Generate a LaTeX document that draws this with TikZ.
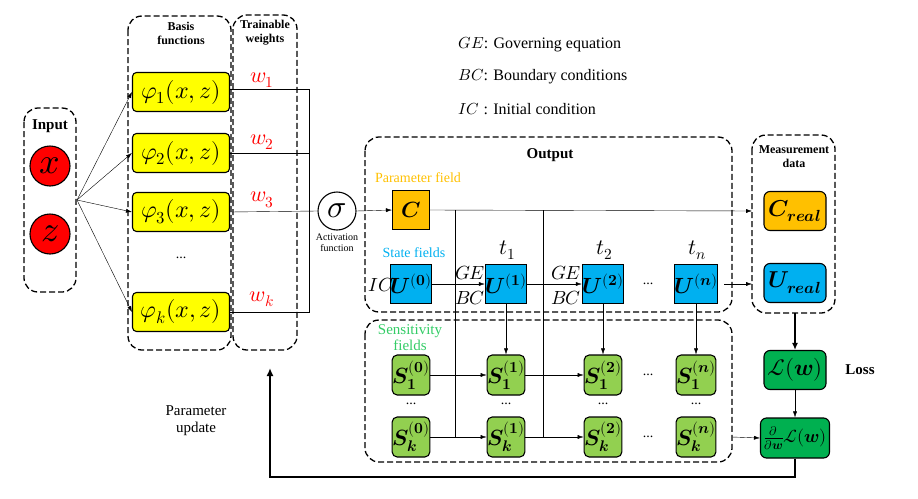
\documentclass[tikz,border=0pt]{standalone}
\usepackage{amsmath}
\usepackage{unicode-math}
\setmainfont{Liberation Serif}
\setmathfont{latinmodern-math.otf}
\usetikzlibrary{arrows.meta}
\definecolor{yel}{HTML}{FFFF00}
\definecolor{org}{HTML}{FFC000}
\definecolor{cya}{HTML}{00B0F0}
\definecolor{lgr}{HTML}{92D050}
\definecolor{dgr}{HTML}{00B050}
\definecolor{sgr}{HTML}{33CC66}
\begin{document}
\begin{tikzpicture}[x=1pt,y=-1pt,font=\fontsize{14}{16}\selectfont,
  grp/.style={draw,line width=1.3pt,rounded corners=14pt,dash pattern=on 6pt off 3pt},
  ybox/.style={draw,line width=1.1pt,fill=yel,rounded corners=4pt,minimum width=97pt,minimum height=39pt,inner sep=0pt,font=\fontsize{24}{26}\selectfont},
  sq/.style={draw,line width=1.1pt,minimum width=37pt,minimum height=39pt,inner sep=0pt,font=\fontsize{22}{24}\selectfont},
  sbox/.style={draw,line width=1.1pt,fill=lgr,rounded corners=5pt,minimum width=37pt,minimum height=40pt,inner sep=0pt,font=\fontsize{22}{24}\selectfont},
  mbox/.style={draw,line width=1.1pt,rounded corners=6pt,minimum width=62pt,minimum height=39pt,inner sep=0pt,font=\fontsize{23}{25}\selectfont},
  ar/.style={-{Latex[length=6pt,width=4pt]}},
  ttl/.style={font=\fontsize{12}{14}\selectfont\bfseries,align=center},
  ml/.style={font=\fontsize{22}{24}\selectfont},
  sl/.style={font=\fontsize{19}{21}\selectfont,inner sep=0pt},
  ]
\useasboundingbox (0,0) rectangle (918,498);
% legend
\node (lg1) [anchor=west,font=\fontsize{16}{18}\selectfont] at (455,45) {$GE$: Governing equation};
\node (lg2) [anchor=west,font=\fontsize{16}{18}\selectfont] at (455,77) {$BC$: Boundary conditions};
\node (lg3) [anchor=west,font=\fontsize{16}{18}\selectfont] at (455,109) {$IC$ : Initial condition};
% groups
\draw[grp] (24,108) rectangle (76,292);
\node (tin) [font=\fontsize{15}{17}\selectfont\bfseries] at (50,126) {Input};
\node (x) [circle,draw,line width=1.1pt,fill=red,minimum size=40pt,inner sep=0pt,font=\fontsize{36}{38}\selectfont] at (50,166) {$x$};
\node (z) [circle,draw,line width=1.1pt,fill=red,minimum size=40pt,inner sep=0pt,font=\fontsize{36}{38}\selectfont] at (50,234) {$z$};
\draw[grp] (128,16) rectangle (231,350);
\node (tb) [ttl] at (181,33) {Basis\\functions};
\draw[grp] (233,15) rectangle (297,350);
\node (tw) [ttl] at (265,33) {Trainable\\weights};
\node (p1) [ybox] at (181,92) {$\varphi_1(x,z)$};
\node (p2) [ybox] at (181,153) {$\varphi_2(x,z)$};
\node (p3) [ybox] at (181,212) {$\varphi_3(x,z)$};
\node (pd) at (181,258) {...};
\node (pk) [ybox] at (181,312) {$\varphi_k(x,z)$};
\coordinate (fan) at (77,200);
\foreach \p in {p1,p2,p3,pk} \draw[ar] (fan) -- (\p.west);
\node (w1) [red,ml] at (262,80) {$w_1$};
\node (w2) [red,ml] at (262,142) {$w_2$};
\node (w3) [red,ml] at (262,200) {$w_3$};
\node (wk) [red,ml] at (262,299) {$w_k$};
\node (sig) [circle,draw,line width=1.1pt,minimum size=38pt,inner sep=0pt,font=\fontsize{32}{34}\selectfont] at (337,211) {$\sigma$};
\node (act) [font=\fontsize{10}{11}\selectfont,align=center] at (337,243) {Activation\\function};
\coordinate (jt) at (309,89);
\coordinate (jb) at (309,312);
\draw (p1.east|-jt) -- (jt) -- (jb) -- (pk.east);
\draw (p2.east) -- (309,153);
\draw (p3.east) -- (sig.west);
% output
\draw[grp] (365,137) rectangle (732,312);
\node (tout) [font=\fontsize{15}{17}\selectfont\bfseries] at (550,155) {Output};
\node (tpf) [org,font=\fontsize{14}{16}\selectfont] at (418,178) {Parameter field};
\node (C) [sq,fill=org] at (411,210) {$\symbfit{C}$};
\draw[ar] (sig.east) -- (C.west);
\node (tsf) [cya,font=\fontsize{14}{16}\selectfont] at (414,253) {State fields};
\node (U0) [sq,fill=cya] at (411,284) {$\symbfit{U}^{(\symbf{0})}$};
\node (IC) [sl] at (381,285) {$IC$};
\node (U1) [sq,fill=cya] at (506,284) {$\symbfit{U}^{(\symbf{1})}$};
\node (U2) [sq,fill=cya] at (603,284) {$\symbfit{U}^{(\symbf{2})}$};
\node (Ud) at (648,284) {...};
\node (Un) [sq,fill=cya] at (696,284) {$\symbfit{U}^{(\symbfit{n})}$};
\node (t1) [ml] at (508,250) {$t_1$};
\node (t2) [ml] at (605,250) {$t_2$};
\node (tn) [ml] at (697,250) {$t_n$};
\draw[ar] (U0.east) -- (U1.west);
\draw[ar] (U1.east) -- (U2.west);
\node (ge1) [sl] at (470,273) {$GE$};
\node (bc1) [sl] at (470,298) {$BC$};
\node (ge2) [sl] at (566,273) {$GE$};
\node (bc2) [sl] at (566,298) {$BC$};
% measurement
\draw[grp] (752,135) rectangle (835,313);
\node (tm) [ttl] at (794,157) {Measurement\\data};
\node (Cr) [mbox,fill=org] at (795,211) {$\symbfit{C_{real}}$};
\node (Ur) [mbox,fill=cya] at (795,283) {$\symbfit{U_{real}}$};
\coordinate (mc) at (752,211);
\coordinate (mu) at (752,284);
\draw[ar] (C.east) -- (mc);
\draw[ar] (Un.east) ++(6,0) -- (mu);
% sensitivity
\draw[grp] (365,320) rectangle (732,462);
\node (tsen) [sgr,align=center,font=\fontsize{15}{16}\selectfont] at (410,338) {Sensitivity\\fields};
\foreach \c/\xx/\s in {0/411/0,1/506/1,2/603/2}{
  \node (S1\c) [sbox] at (\xx,375) {$\symbfit{S}_{\symbf{1}}^{(\symbf{\s})}$};
  \node (Sk\c) [sbox] at (\xx,437) {$\symbfit{S}_{\symbfit{k}}^{(\symbf{\s})}$};
  \node (Sd\c) at (\xx,404) {...};
}
\node (S1n) [sbox] at (696,375) {$\symbfit{S}_{\symbf{1}}^{(\symbfit{n})}$};
\node (Skn) [sbox] at (696,437) {$\symbfit{S}_{\symbfit{k}}^{(\symbfit{n})}$};
\node (Sdn) at (696,404) {...};
\node (Sd1r) at (648,375) {...};
\node (Sdkr) at (648,437) {...};
\draw[ar] (U1.south) -- (S11.north);
\draw[ar] (U2.south) -- (S12.north);
\draw[ar] (Un.south) -- (S1n.north);
\draw[ar] (S10.east) -- (S11.west);
\draw[ar] (S11.east) -- (S12.west);
\draw[ar] (Sk0.east) -- (Sk1.west);
\draw[ar] (Sk1.east) -- (Sk2.west);
\draw (455,210) -- (455,437);
\draw (543,210) -- (543,437);
% loss
\node (L) [mbox,fill=dgr] at (795,370) {$\mathcal{L}(\symbfit{w})$};
\node (tl) [font=\fontsize{15}{17}\selectfont\bfseries] at (860,370) {Loss};
\node (dL) [mbox,fill=dgr,minimum width=69pt,minimum height=40pt,inner sep=0pt,font=\fontsize{18}{20}\selectfont] at (795,438) {$\frac{\partial}{\partial \symbfit{w}}\mathcal{L}(\symbfit{w})$};
\coordinate (mb) at (795,313);
\draw[-{Latex[length=7pt,width=6pt]},line width=2.2pt] (mb) -- (L.north);
\draw[ar] (L.south) -- (dL.north);
\coordinate (se) at (732,437);
\draw[ar] (se) -- (dL.west);
\coordinate (fb1) at (795,477);
\coordinate (fb2) at (270,477);
\coordinate (fb3) at (270,368);
\draw[-{Latex[length=8pt,width=7pt]},line width=2.2pt] (dL.south) -- (fb1) -- (fb2) -- (fb3);
\node (pu) [align=center,font=\fontsize{15}{17}\selectfont] at (196,421) {Parameter\\update};
\end{tikzpicture}
\end{document}
